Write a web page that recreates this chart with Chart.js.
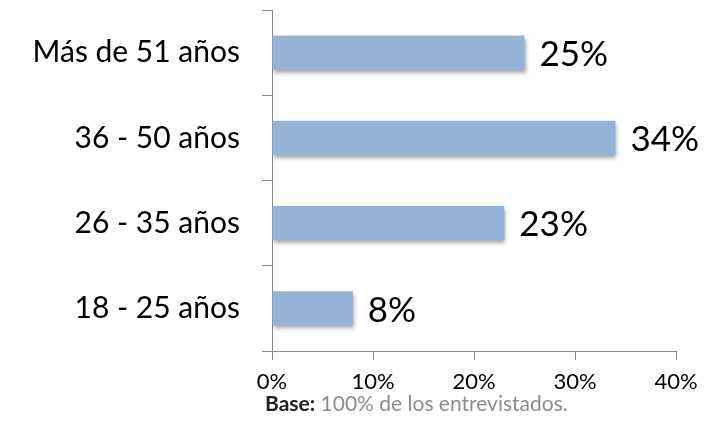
<!DOCTYPE html>
<html>
<head>
<meta charset="utf-8">
<script src="https://cdn.jsdelivr.net/npm/chart.js@4"></script>
<style>
  html, body { margin: 0; padding: 0; background: #fff; }
  #wrap { position: relative; width: 718px; height: 424px; }
  #foot { position: absolute; left: 265px; top: 391px; font-family: Lato, sans-serif; font-size: 21px; line-height: 24px; color: #8c8c8c; white-space: nowrap; }
  #foot b { color: #222; }
</style>
</head>
<body>
<div id="wrap">
  <canvas id="chart" width="718" height="424"></canvas>
  <div id="foot"><b>Base:</b> 100% de los entrevistados.</div>
</div>
<script>
var categories = ['Más de 51 años', '36 - 50 años', '26 - 35 años', '18 - 25 años'];
var values = [25, 34, 23, 8];
var xTicks = [0, 10, 20, 30, 40];

var FONT = 'Lato, sans-serif';

// sombra suave bajo las barras
var barShadow = {
  id: 'barShadow',
  beforeDatasetsDraw: function (chart) {
    var c = chart.ctx;
    c.save();
    c.shadowColor = 'rgba(0,0,0,0.35)';
    c.shadowBlur = 4;
    c.shadowOffsetX = 1;
    c.shadowOffsetY = 3;
  },
  afterDatasetsDraw: function (chart) {
    chart.ctx.restore();
  }
};

// etiquetas de valor al final de cada barra
var valueLabels = {
  id: 'valueLabels',
  afterDraw: function (chart) {
    var c = chart.ctx;
    var meta = chart.getDatasetMeta(0);
    c.save();
    c.font = '35px ' + FONT;
    c.fillStyle = '#000';
    c.textAlign = 'left';
    c.textBaseline = 'middle';
    meta.data.forEach(function (bar, i) {
      c.fillText(values[i] + '%', bar.x + 15, bar.y + 2);
    });
    c.restore();
  }
};

new Chart(document.getElementById('chart'), {
  type: 'bar',
  data: {
    labels: categories,
    datasets: [{
      data: values,
      backgroundColor: '#95b3d7',
      borderWidth: 0,
      barPercentage: 0.8,
      categoryPercentage: 0.5
    }]
  },
  plugins: [barShadow, valueLabels],
  options: {
    indexAxis: 'y',
    responsive: false,
    animation: false,
    layout: { padding: { top: 10, right: 42, left: 0, bottom: 0 } },
    plugins: { legend: { display: false }, tooltip: { enabled: false } },
    scales: {
      x: {
        min: 0, max: 40,
        afterBuildTicks: function (s) { s.ticks = xTicks.map(function (v) { return { value: v }; }); },
        afterFit: function (s) { s.height = 73; s.paddingLeft = 0; s.paddingRight = 0; },
        grid: { drawOnChartArea: false, drawTicks: true, tickLength: 9, color: '#888', lineWidth: 1 },
        border: { color: '#888', width: 1 },
        ticks: { color: '#000', font: { family: FONT, size: 22 }, padding: 9, callback: function (v) { return v + '%'; } }
      },
      y: {
        afterFit: function (s) { s.width = 272; s.paddingTop = 0; s.paddingBottom = 0; },
        grid: { drawOnChartArea: false, drawTicks: true, tickLength: 10, color: '#888', lineWidth: 1 },
        border: { color: '#888', width: 1 },
        ticks: { color: '#000', font: { family: FONT, size: 30 }, padding: 22 }
      }
    }
  }
});
</script>
</body>
</html>
